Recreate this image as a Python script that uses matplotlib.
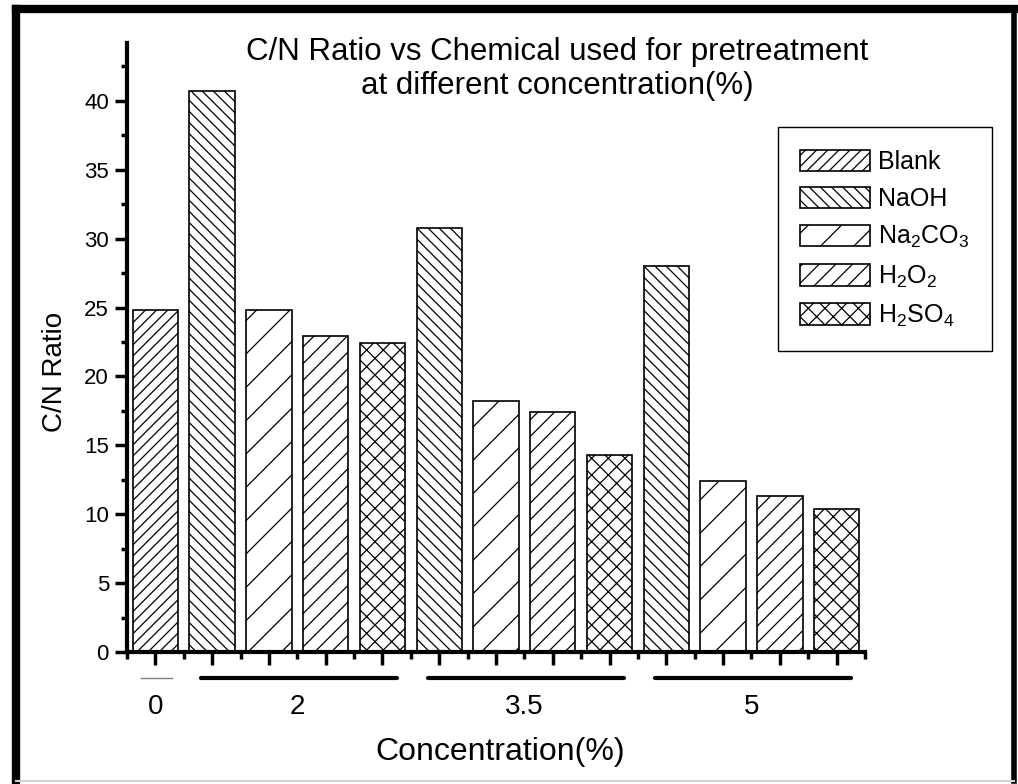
import numpy as np
import matplotlib
matplotlib.use('Agg')
import matplotlib.pyplot as plt
from matplotlib.lines import Line2D
from matplotlib.ticker import MultipleLocator

# data
chemicals = ['Blank', 'NaOH', 'Na$_2$CO$_3$', 'H$_2$O$_2$', 'H$_2$SO$_4$']
hatches = ['///', '\\\\\\', '/', '//', 'xx']
bar_chemical = [0, 1, 2, 3, 4, 1, 2, 3, 4, 1, 2, 3, 4]
cn_ratio = [24.8, 40.7, 24.8, 22.9, 22.4, 30.8, 18.2, 17.4, 14.3, 28.0, 12.4, 11.3, 10.4]
group_labels = ['0', '2', '3.5', '5']
group_sizes = [1, 4, 4, 4]

plt.rcParams['font.family'] = ['Liberation Sans', 'DejaVu Sans']
plt.rcParams['mathtext.fontset'] = 'custom'
plt.rcParams['mathtext.rm'] = 'Liberation Sans'
plt.rcParams['mathtext.it'] = 'Liberation Sans'
plt.rcParams['hatch.linewidth'] = 0.9


def plot_bars(ax):
    x = np.arange(1, len(cn_ratio) + 1)
    seen = set()
    for xi, v, c in zip(x, cn_ratio, bar_chemical):
        label = chemicals[c] if c not in seen else None
        seen.add(c)
        ax.bar(xi, v, width=0.8, facecolor='white', edgecolor='black',
               hatch=hatches[c], linewidth=1.2, label=label)
    ax.set_xlim(0.5, len(cn_ratio) + 0.5)
    ax.set_ylim(0, 44.2)


def style_axes(ax):
    for side in ['top', 'right']:
        ax.spines[side].set_visible(False)
    for side in ['left', 'bottom']:
        ax.spines[side].set_linewidth(3)
    ax.yaxis.set_major_locator(MultipleLocator(5))
    ax.yaxis.set_minor_locator(MultipleLocator(2.5))
    ax.set_xticks(np.arange(1, len(cn_ratio) + 1))
    ax.set_xticks(np.arange(0.5, len(cn_ratio) + 1), minor=True)
    ax.set_xticklabels([])
    ax.tick_params(axis='y', which='major', length=9, width=2.5, labelsize=16, pad=4)
    ax.tick_params(axis='y', which='minor', length=4, width=2.5)
    ax.tick_params(axis='x', which='major', length=9, width=2.5)
    ax.tick_params(axis='x', which='minor', length=5, width=2.5)
    ax.set_ylabel('C/N Ratio', fontsize=20, va='center')
    ax.yaxis.set_label_coords(-0.0976, 0.46)
    ax.set_xlabel('Concentration(%)', fontsize=23, va='center')
    ax.xaxis.set_label_coords(0.505, -0.164)


def group_annotations(ax):
    trans = ax.get_xaxis_transform()
    start = 1
    for lab, n in zip(group_labels, group_sizes):
        end = start + n - 1
        if n == 1:
            ax.plot([start - 0.25, end + 0.3], [-0.043, -0.043], transform=trans,
                    color='gray', lw=1, clip_on=False)
        else:
            ax.plot([start - 0.2, end + 0.25], [-0.043, -0.043], transform=trans,
                    color='black', lw=3, clip_on=False, solid_capstyle='round')
        ax.text((start + end) / 2, -0.09, lab, transform=trans, ha='center', va='center',
                fontsize=20)
        start = end + 1


def draw_border(fig):
    w, h = fig.get_size_inches() * fig.dpi
    fx = lambda px: px / w
    fy = lambda py: 1 - py / h
    fig.add_artist(Line2D([fx(16), fx(1014)], [fy(9), fy(9)], color='black', lw=6))
    fig.add_artist(Line2D([fx(16), fx(16)], [fy(9), fy(784)], color='black', lw=6))
    fig.add_artist(Line2D([fx(1014), fx(1014)], [fy(9), fy(781)], color='black', lw=4))
    fig.add_artist(Line2D([fx(16), fx(1014)], [fy(781), fy(781)], color='lightgray', lw=1.5))


def main():
    fig = plt.figure(figsize=(10.18, 7.84), dpi=100)
    ax = fig.add_axes([0.1248, 0.1684, 0.7249, 0.7768])
    plot_bars(ax)
    style_axes(ax)
    group_annotations(ax)
    fig.text(0.547, 0.912, 'C/N Ratio vs Chemical used for pretreatment\nat different concentration(%)',
             fontsize=22.5, ha='center', va='center', linespacing=1.2, multialignment='center')
    ax.legend(loc='upper left', bbox_to_anchor=(0.764, 0.838), bbox_transform=fig.transFigure,
              fontsize=18, handlelength=2.8, handleheight=0.95, labelspacing=0.52,
              borderpad=0.9, handletextpad=0.3, fancybox=False, frameon=True,
              edgecolor='black', framealpha=1, borderaxespad=0)
    ax.get_legend().get_frame().set_linewidth(1.0)
    draw_border(fig)
    fig.savefig('out.png', dpi=100)


if __name__ == "__main__":
    main()
